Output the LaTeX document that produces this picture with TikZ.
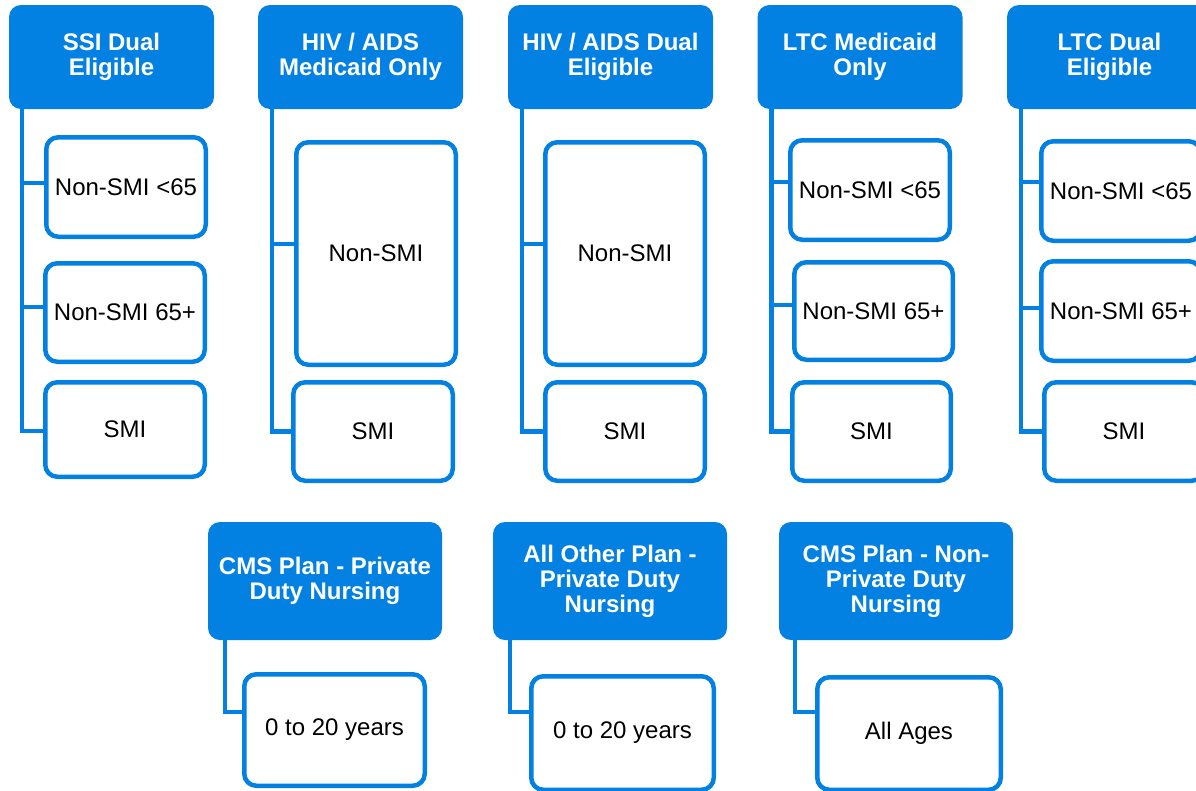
\documentclass[tikz,border=0pt]{standalone}
\usepackage{fontspec}
\setmainfont{Liberation Sans}
\definecolor{sblue}{RGB}{3,129,227}
\begin{document}
\begin{tikzpicture}[x=1pt,y=-1pt,
  hdr/.style={fill=sblue, draw=none, rounded corners=12pt, text=white,
    font=\fontsize{24}{25}\selectfont\bfseries, align=center, inner sep=0pt,
    minimum width=205pt, minimum height=104pt},
  hdrb/.style={hdr, minimum width=234pt, minimum height=118pt},
  kid/.style={draw=sblue, line width=4.5pt, fill=white, rounded corners=12pt,
    font=\fontsize{24}{27}\selectfont, align=center, inner sep=0pt},
  conn/.style={draw=sblue, line width=4.5pt}]
\useasboundingbox (0,0) rectangle (1196,790);
\clip (0,0) rectangle (1196,790);
% headers, top row
\node[hdr] (hA) at (111.5,57) {SSI Dual\\Eligible};
\node[hdr] (hB) at (360.5,57) {HIV / AIDS\\Medicaid Only};
\node[hdr] (hC) at (610.5,57) {HIV / AIDS Dual\\Eligible};
\node[hdr] (hD) at (860,57) {LTC Medicaid\\Only};
\node[hdr] (hE) at (1109.5,57) {LTC Dual\\Eligible};
% headers, bottom row
\node[hdrb] (hF) at (325,581) {CMS Plan - Private\\Duty Nursing};
\node[hdrb] (hG) at (610,581) {All Other Plan -\\Private Duty\\Nursing};
\node[hdrb] (hH) at (896,581) {CMS Plan - Non-\\Private Duty\\Nursing};
% children
\node[kid, minimum width=159.5pt, minimum height=99.5pt] (a1) at (126,187) {Non-SMI <65};
\node[kid, minimum width=159.5pt, minimum height=98.5pt] (a2) at (125,312.5) {Non-SMI 65+};
\node[kid, minimum width=159.5pt, minimum height=94.5pt] (a3) at (125,429.5) {SMI};
\node[kid, minimum width=159.5pt, minimum height=222.5pt] (b1) at (376,253.5) {Non-SMI};
\node[kid, minimum width=159.5pt, minimum height=98.5pt] (b2) at (373,431.5) {SMI};
\node[kid, minimum width=159.5pt, minimum height=222.5pt] (c1) at (625,253.5) {Non-SMI};
\node[kid, minimum width=159.5pt, minimum height=98.5pt] (c2) at (625,431.5) {SMI};
\node[kid, minimum width=159.5pt, minimum height=99.5pt] (d1) at (870,190) {Non-SMI <65};
\node[kid, minimum width=158.5pt, minimum height=97.5pt] (d2) at (873.5,311) {Non-SMI 65+};
\node[kid, minimum width=158.5pt, minimum height=98.5pt] (d3) at (871.5,431.5) {SMI};
\node[kid, minimum width=159.5pt, minimum height=99.5pt] (e1) at (1121,191) {Non-SMI <65};
\node[kid, minimum width=159.5pt, minimum height=99.5pt] (e2) at (1121,311) {Non-SMI 65+};
\node[kid, minimum width=159.5pt, minimum height=98.5pt] (e3) at (1124,431.5) {SMI};
\node[kid, minimum width=180.5pt, minimum height=111.5pt] (f1) at (334.5,730) {0 to 20 years};
\node[kid, minimum width=182.5pt, minimum height=113.5pt] (g1) at (622.5,733) {0 to 20 years};
\node[kid, minimum width=183.5pt, minimum height=112.5pt] (h1) at (909,733.5) {All Ages};
% connectors from headers to children
\draw[conn] ([xshift=13pt]hA.south west) |- ([yshift=4pt]a1.west);
\draw[conn] ([xshift=13pt]hA.south west) |- ([yshift=5.5pt]a2.west);
\draw[conn] ([xshift=13pt]hA.south west) |- ([yshift=-1.5pt]a3.west);
\draw[conn] ([xshift=14pt]hB.south west) |- ([yshift=9.5pt]b1.west);
\draw[conn] ([xshift=14pt]hB.south west) |- (b2.west);
\draw[conn] ([xshift=14pt]hC.south west) |- ([yshift=9.5pt]c1.west);
\draw[conn] ([xshift=14pt]hC.south west) |- (c2.west);
\draw[conn] ([xshift=14pt]hD.south west) |- ([yshift=8pt]d1.west);
\draw[conn] ([xshift=14pt]hD.south west) |- ([yshift=6pt]d2.west);
\draw[conn] ([xshift=14pt]hD.south west) |- (d3.west);
\draw[conn] ([xshift=14pt]hE.south west) |- ([yshift=9pt]e1.west);
\draw[conn] ([xshift=14pt]hE.south west) |- ([yshift=3pt]e2.west);
\draw[conn] ([xshift=14pt]hE.south west) |- (e3.west);
\draw[conn] ([xshift=17pt]hF.south west) |- ([yshift=18pt]f1.west);
\draw[conn] ([xshift=17pt]hG.south west) |- ([yshift=21pt]g1.west);
\draw[conn] ([xshift=16pt]hH.south west) |- ([yshift=21.5pt]h1.west);
\end{tikzpicture}
\end{document}
